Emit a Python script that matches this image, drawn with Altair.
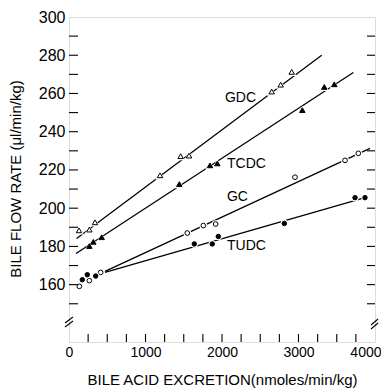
import altair as alt
import pandas as pd

# ---- data ----
gdc_x = [131, 266, 340, 1190, 1460, 1569, 2649, 2767, 2911]
gdc_y = [188.4, 188.8, 192.6, 217.2, 227.2, 227.5, 261.0, 264.6, 271.3]
tcdc_x = [266, 318, 427, 1442, 1843, 1939, 3050, 3337, 3468]
tcdc_y = [180.2, 182.4, 184.8, 212.6, 222.4, 223.4, 251.3, 263.4, 264.8]
gc_x = [135, 266, 414, 1546, 1756, 1917, 2954, 3608, 3782]
gc_y = [159.1, 162.1, 166.4, 187.0, 190.9, 191.7, 216.2, 225.0, 228.7]
tudc_x = [174, 239, 349, 1638, 1873, 1952, 2815, 3739, 3869]
tudc_y = [162.6, 165.2, 164.5, 181.3, 181.3, 185.2, 192.0, 205.5, 205.5]

series = ["GDC", "TCDC", "GC", "TUDC"]
line_x0 = [100, 92, 470, 470]
line_y0 = [184.1, 176.3, 166.9, 166.4]
line_x1 = [3303, 3717, 3935, 3870]
line_y1 = [280.0, 271.0, 231.3, 205.5]

label_x = [2039, 2065, 2065, 2065]
label_y = [257.7, 223.0, 206.0, 180.2]

x_tick_labels = [0, 500, 1000, 1500, 2000, 2500, 3000, 3500, 4000]
y_tick_labels = [160, 180, 200, 220, 240, 260, 280, 300]
x_minor = [250, 500, 750, 1000, 1250, 1500, 1750, 2000, 2250, 2500, 2750,
           3000, 3250, 3500, 3750]
y_minor = [150, 160, 170, 180, 190, 200, 210, 220, 230, 240, 250, 260, 270,
           280, 290]

W, H = 306, 325
FONT = "Liberation Sans"

lines = pd.concat([
    pd.DataFrame({"x": [line_x0[i], line_x1[i]], "y": [line_y0[i], line_y1[i]], "s": s})
    for i, s in enumerate(series)
], ignore_index=True)

labels = pd.DataFrame({"x": label_x, "y": label_y, "t": series})

xs = alt.Scale(domain=[0, 4000], nice=False, zero=False)
ys = alt.Scale(domain=[130, 300], nice=False, zero=False)

X = alt.X("x:Q", scale=xs, axis=alt.Axis(
    values=x_tick_labels, format="d", ticks=False, tickSize=0, domain=False,
    grid=False, labelFont=FONT, labelFontSize=14, labelColor="black",
    labelPadding=3,
    labelAlign={"condition": {"test": "datum.value == 4000", "value": "right"},
                "value": "center"},
    labelOffset={"condition": {"test": "datum.value == 4000", "value": 6},
                 "value": 0},
    title="BILE ACID EXCRETION(nmoles/min/kg)", titleFont=FONT,
    titleFontSize=15, titleFontWeight="normal", titleColor="black",
    titleX=W / 2, titleY=37, titleAlign="center", titleBaseline="middle",
    labelFlush=False, labelOverlap=False))
Y = alt.Y("y:Q", scale=ys, axis=alt.Axis(
    values=y_tick_labels, format="d", ticks=False, tickSize=0, domain=False,
    grid=False, labelFont=FONT, labelFontSize=16, labelColor="black",
    labelPadding=4,
    title="BILE FLOW RATE (μl/min/kg)", titleFont=FONT, titleFontSize=15,
    titleFontWeight="normal", titleColor="black", titleAngle=-90,
    titleX=-54, titleY=H / 2 - 1, titleAlign="center", titleBaseline="middle",
    labelFlush=False, labelOverlap=False))

line_layer = alt.Chart(lines).mark_line(color="black", strokeWidth=1.3).encode(
    x=X, y=Y, detail="s:N")


def marker_layers(xv, yv, shape, filled, size, halo_size):
    df = pd.DataFrame({"x": xv, "y": yv})
    c = alt.Chart(df)
    halo = c.mark_point(shape=shape, filled=True, color="white", size=halo_size,
                        opacity=1).encode(x=X, y=Y)
    mk = c.mark_point(shape=shape, filled=True,
                      fill="black" if filled else "white",
                      stroke="black", strokeWidth=1, size=size,
                      opacity=1).encode(x=X, y=Y)
    return [halo, mk]


mlayers = (marker_layers(gdc_x, gdc_y, "triangle-up", False, 30, 90)
           + marker_layers(tcdc_x, tcdc_y, "triangle-up", True, 30, 90)
           + marker_layers(gc_x, gc_y, "circle", False, 22, 60)
           + marker_layers(tudc_x, tudc_y, "circle", True, 20, 55))

text_layer = alt.Chart(labels).mark_text(
    align="left", baseline="middle", font=FONT, fontSize=14, color="black"
).encode(x=X, y=Y, text="t:N")

yt = pd.DataFrame({"y": y_minor})
xt = pd.DataFrame({"x": x_minor})
left_ticks = alt.Chart(yt).mark_rule(color="black", strokeWidth=1.1).encode(
    y=alt.Y("y:Q", scale=ys), x=alt.value(0), x2=alt.value(9))
right_ticks = alt.Chart(yt).mark_rule(color="black", strokeWidth=1.1).encode(
    y=alt.Y("y:Q", scale=ys), x=alt.value(W - 8), x2=alt.value(W))
bottom_ticks = alt.Chart(xt).mark_rule(color="black", strokeWidth=1.1).encode(
    x=alt.X("x:Q", scale=xs), y=alt.value(H - 8), y2=alt.value(H))


def brk(x0, y0, x1, y1):
    return alt.Chart(pd.DataFrame({"a": [0]})).mark_rule(
        color="black", strokeWidth=1.1).encode(
        x=alt.value(x0), y=alt.value(y0), x2=alt.value(x1), y2=alt.value(y1))


breaks = [brk(-4, 306, 4, 300), brk(-4, 310, 4, 304),
          brk(302, 308, 309, 302), brk(302, 312, 309, 306)]

chart = alt.layer(
    line_layer, *mlayers, text_layer, left_ticks, right_ticks,
    bottom_ticks, *breaks
).properties(
    width=W, height=H,
    autosize=alt.AutoSizeParams(type="none"),
    padding={"left": 61, "top": 9, "right": 6, "bottom": 60},
).configure_view(stroke="black", strokeWidth=1.2).configure(background="white")

chart.save("out.html", embed_options={"renderer": "svg", "actions": False})
